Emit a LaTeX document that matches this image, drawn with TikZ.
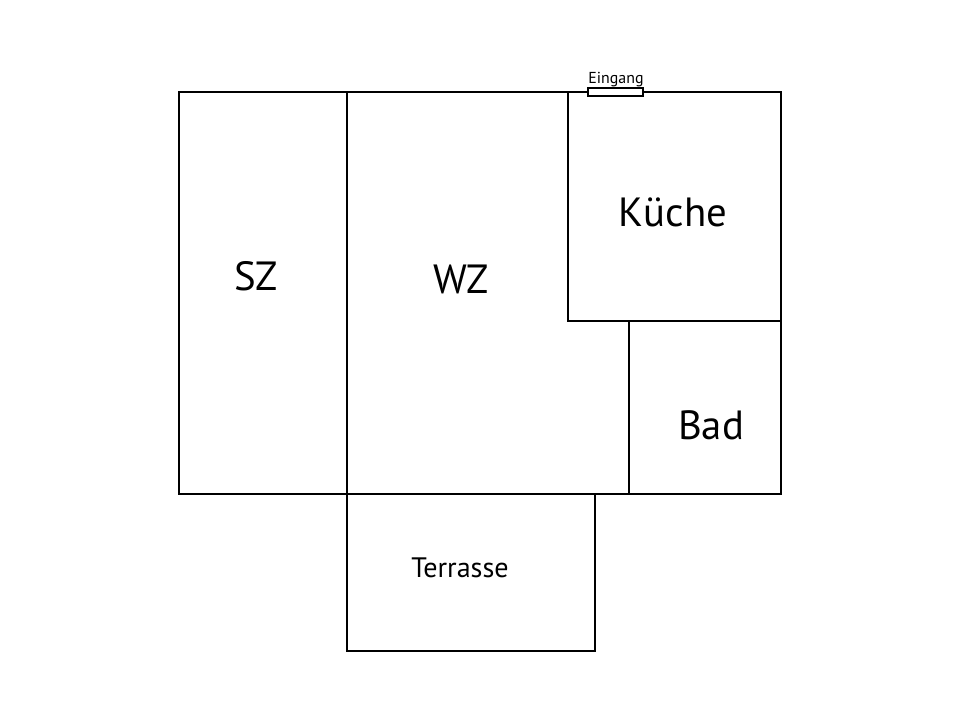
\documentclass[tikz,border=0pt]{standalone}
\usepackage{fontspec}
\setmainfont{PT Sans}

\begin{document}
\begin{tikzpicture}[x=0.025cm, y=-0.025cm, line width=0.85pt]
\useasboundingbox (0,0) rectangle (960,720);
\coordinate (NW) at (179,92);
\coordinate (NE) at (781,92);
\coordinate (SW) at (179,494);
\coordinate (SE) at (781,494);
\coordinate (WallTop) at (347,92);
\coordinate (WallBot) at (347,494);
\coordinate (KTop) at (568,92);
\coordinate (KCorner) at (568,321);
\coordinate (KRight) at (781,321);
\coordinate (BTop) at (629,321);
\coordinate (BBot) at (629,494);
\coordinate (TR) at (595,651);
\coordinate (TRTop) at (595,494);
\draw (NW) rectangle (SE);
\draw (WallTop) -- (WallBot);
\draw (KTop) -- (KCorner) -- (KRight);
\draw (BTop) -- (BBot);
\draw (WallBot) -- (347,651) -- (TR) -- (TRTop);

% Eingang door
\draw [fill=white] (588,88) rectangle (643,96);
\node [anchor=base, font=\fontsize{11.3}{13}\selectfont] (Eingang) at (616,84) {Eingang};

\node [anchor=base, font=\fontsize{29}{34}\selectfont] (SZ) at (256,291) {SZ};
\node [anchor=base, font=\fontsize{29}{34}\selectfont] (WZ) at (461,294) {WZ};
\node [anchor=base, font=\fontsize{29}{34}\selectfont] (Kueche) at (673,227) {Küche};
\node [anchor=base, font=\fontsize{29}{34}\selectfont] (Bad) at (711,440) {Bad};
\node [anchor=base, font=\fontsize{20}{24}\selectfont] (Terrasse) at (460,577) {Terrasse};
\end{tikzpicture}
\end{document}
